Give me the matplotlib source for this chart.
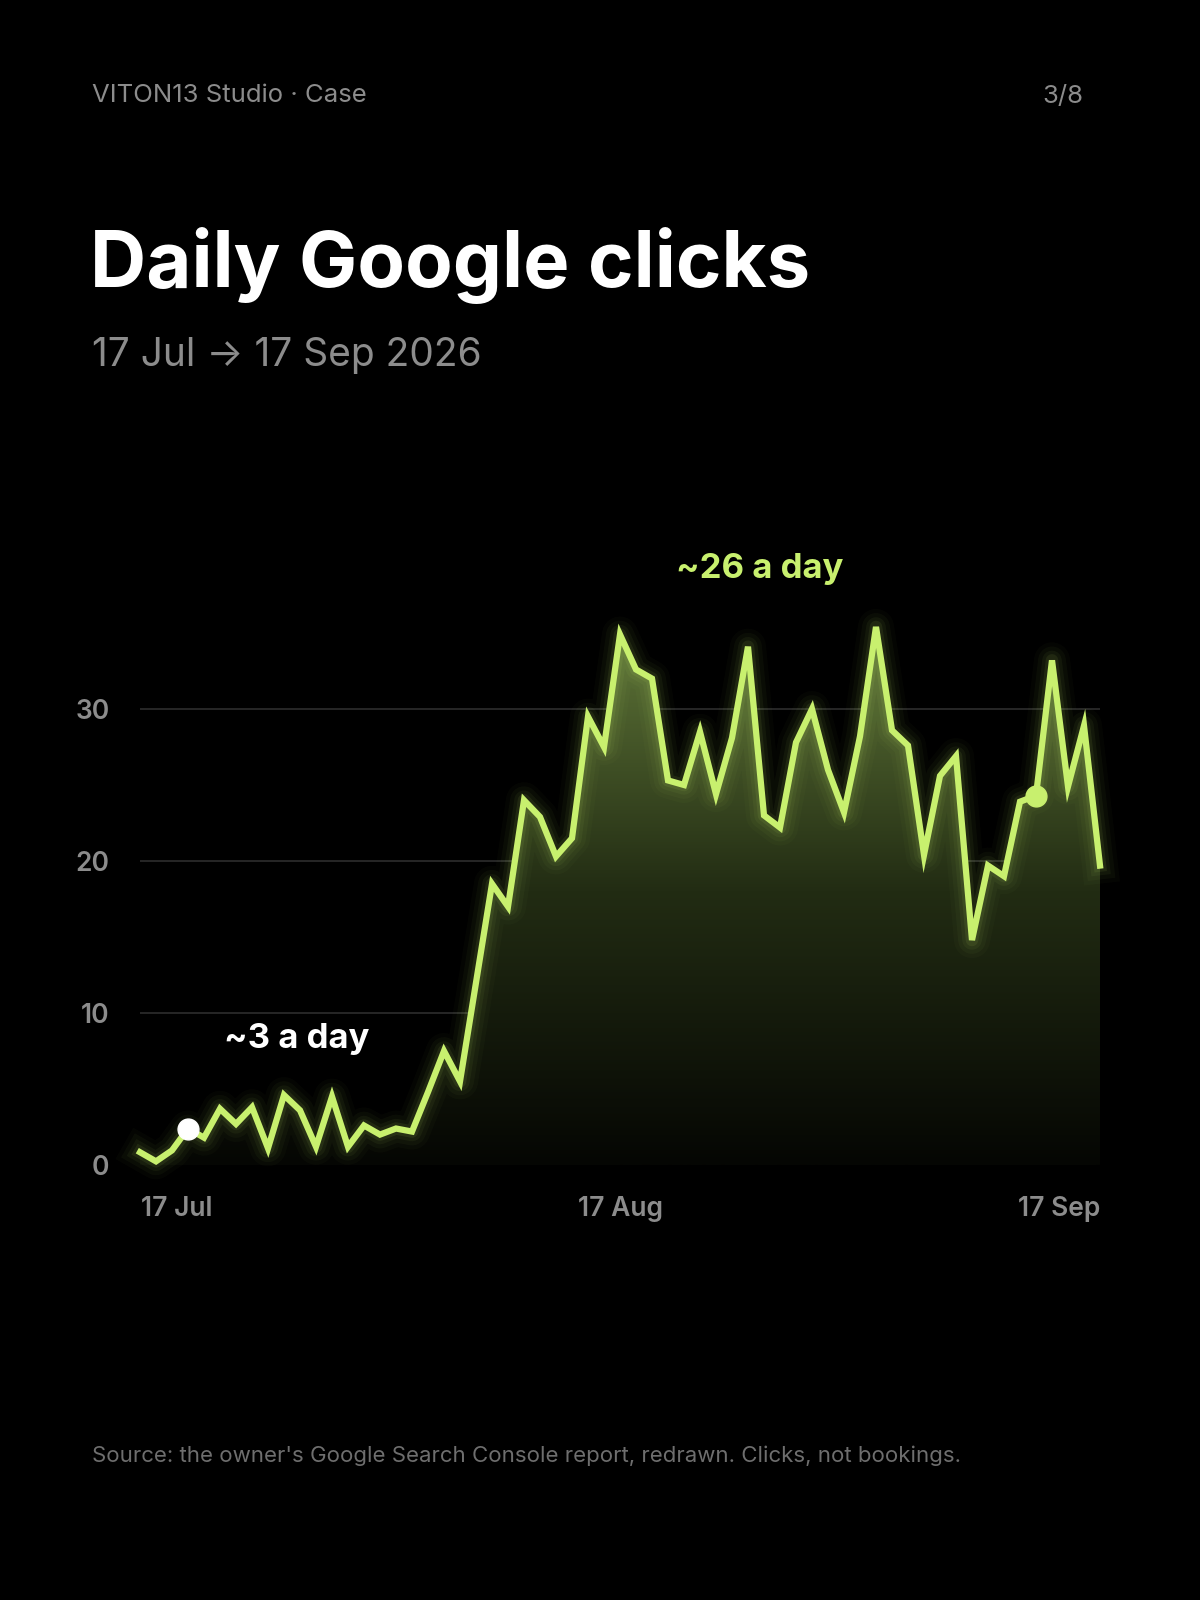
import matplotlib
matplotlib.use("Agg")
import matplotlib.pyplot as plt
import numpy as np
from matplotlib.colors import LinearSegmentedColormap

clicks = [0.84, 0.24, 0.96, 2.4, 1.8, 3.7, 2.7, 3.8, 1.1, 4.6, 3.6, 1.2, 4.5, 1.2, 2.6, 2.0,
          2.4, 2.2, 4.8, 7.5, 5.5, 12.0, 18.5, 17.0, 24.0, 22.9, 20.3, 21.5, 29.5,
          27.5, 34.9, 32.6, 32.0, 25.3, 25.0, 28.5, 24.4, 28.1, 34.1, 23.0, 22.2, 27.8,
          30.0, 26.0, 23.2, 28.2, 35.4, 28.6, 27.6, 20.4, 25.6, 26.9, 14.8, 19.7, 19.0,
          23.9, 24.3, 33.2, 24.9, 28.9, 19.7]
tick_pos = [2.3, 30, 60]
tick_labels = ["17 Jul", "17 Aug", "17 Sep"]
y_ticks = [0, 10, 20, 30]
marker_idx = [3, 56]
marker_colors = ["white", "#c8f06e"]

FONT = ["Inter", "DejaVu Sans"]
plt.rcParams["font.family"] = FONT
LIME = "#c8f06e"
GRAY = "#8c8c8c"

fig = plt.figure(figsize=(12, 16), dpi=100, facecolor="black")
ax = fig.add_axes([140/1200, 1 - 1165/1600, 960/1200, 608/1600])
ax.set_facecolor("black")
x = np.arange(len(clicks))
y = np.array(clicks)
ax.set_xlim(0, len(clicks) - 1)
ax.set_ylim(0, 40)

for v in y_ticks:
    ax.axhline(v, color="#2a2a2a", lw=1.3, zorder=0)

# gradient fill
cmap = LinearSegmentedColormap.from_list("g", ["#050603", "#222c13", "#62793a"])
poly = ax.fill_between(x, y, 0, color="none")
grad = np.linspace(0, 1, 256).reshape(-1, 1)
img = ax.imshow(grad, extent=[0, len(clicks) - 1, 0, 36], origin="lower", aspect="auto",
                cmap=cmap, zorder=1, vmin=0, vmax=1)
img.set_clip_path(poly.get_paths()[0], transform=ax.transData)

# glow
for lw, a in [(26, 0.025), (20, 0.035), (14, 0.05), (9, 0.08)]:
    ax.plot(x, y, color=LIME, lw=lw, alpha=a, solid_joinstyle="round", zorder=2, clip_on=False)
ax.plot(x, y, color=LIME, lw=4.5, solid_joinstyle="miter", zorder=3, clip_on=False)
for i, c in zip(marker_idx, marker_colors):
    ax.plot(x[i], y[i], "o", ms=15, color=c, zorder=4, clip_on=False)

ax.text(38.7, 39.2, "~26 a day", color=LIME, fontsize=25, fontweight="bold", ha="center", va="center")
ax.text(9.8, 8.3, "~3 a day", color="white", fontsize=25, fontweight="bold", ha="center", va="center")

for s in ax.spines.values():
    s.set_visible(False)
ax.set_yticks(y_ticks)
ax.set_yticklabels([str(v) for v in y_ticks], color=GRAY, fontsize=19, fontweight="semibold")
ax.tick_params(axis="y", length=0, pad=22)
ax.set_xticks(tick_pos)
ax.set_xticklabels(tick_labels, color=GRAY, fontsize=19, fontweight="semibold")
ax.tick_params(axis="x", length=0, pad=22)
lbls = ax.get_xticklabels()
lbls[-1].set_ha("right")

fig.text(92/1200, 1 - 96/1600, "VITON13 Studio · Case", color=GRAY, fontsize=18.5, va="center", ha="left")
fig.text(1083/1200, 1 - 96/1600, "3/8", color=GRAY, fontsize=18.5, va="center", ha="right")
fig.text(90/1200, 1 - 265/1600, "Daily Google clicks", color="white", fontsize=56, fontweight="bold",
         va="center", ha="left")
fig.text(92/1200, 1 - 355/1600, "17 Jul → 17 Sep 2026", color=GRAY, fontsize=28, va="center", ha="left")
fig.text(92/1200, 1 - 1456/1600, "Source: the owner's Google Search Console report, redrawn. Clicks, not bookings.",
         color="#6e6e6e", fontsize=16, va="center", ha="left")

fig.savefig("out.png", dpi=100, facecolor="black")
